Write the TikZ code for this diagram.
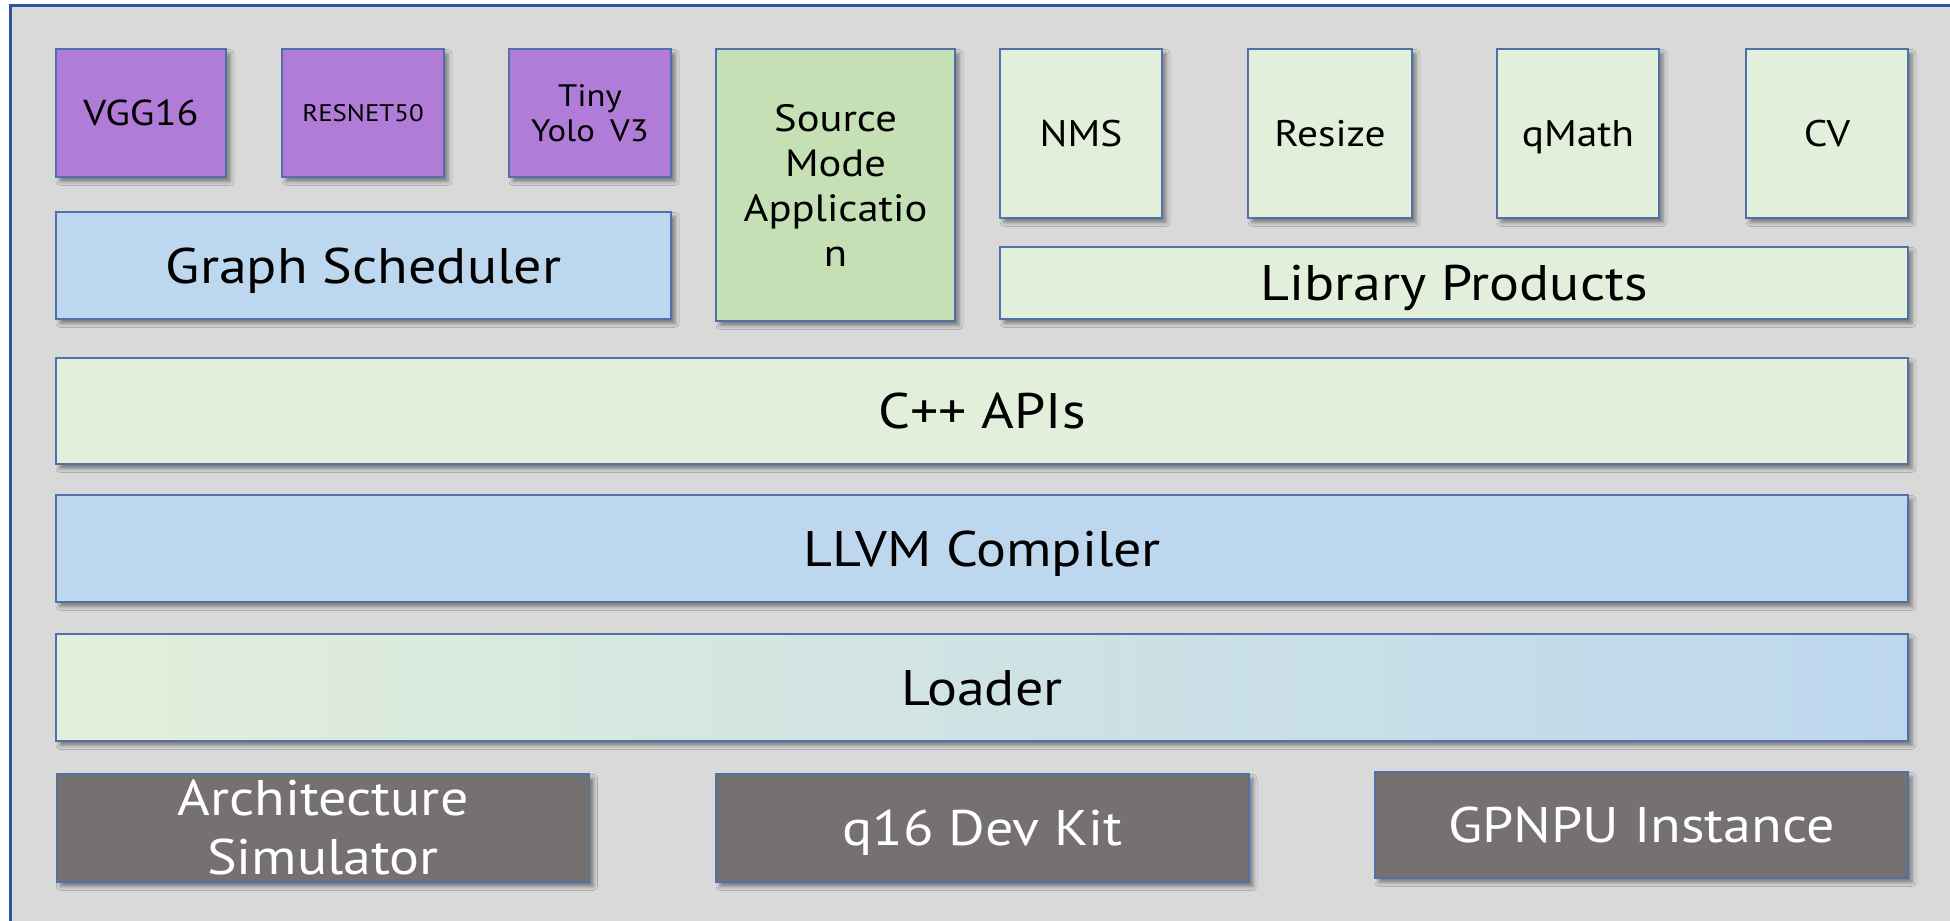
\documentclass[tikz,border=0pt]{standalone}
\usepackage{fontspec}
\setmainfont{PT Sans}[FakeStretch=1.12]
\usetikzlibrary{shadows.blur}

\definecolor{framebg}{HTML}{D9D9D9}
\definecolor{frameline}{HTML}{2F5597}
\definecolor{boxline}{HTML}{5070A8}
\definecolor{modelfill}{HTML}{B07CD8}
\definecolor{bluefill}{HTML}{BDD7EE}
\definecolor{greenfill}{HTML}{E2EFDA}
\definecolor{appfill}{HTML}{C5E0B4}
\definecolor{hwfill}{HTML}{767171}

\tikzset{
  box/.style={draw=boxline, line width=0.6pt, rectangle, inner sep=0pt, outer sep=0pt,
    align=center, text=black,
    blur shadow={shadow xshift=2pt, shadow yshift=-2.2pt, shadow blur radius=2pt, shadow opacity=45}},
  % single-line labels are centred on their capital letters
  bigline/.style={font=\fontsize{25}{30}\selectfont, text height=17.5pt, text depth=0pt},
  midline/.style={font=\fontsize{18.5}{22.5}\selectfont, text height=12.9pt, text depth=0pt},
  model/.style={box, fill=modelfill, minimum height=64pt},
  lib/.style={box, midline, fill=greenfill, minimum width=81pt, minimum height=84.5pt},
  layer/.style={box, bigline, minimum width=926pt, minimum height=53.5pt},
  hw/.style={box, fill=hwfill, text=white, minimum width=266.5pt, minimum height=54pt},
}

\begin{document}
\begin{tikzpicture}[x=0.5pt, y=-0.5pt]
  \useasboundingbox (0,0) rectangle (1950,921);
  % outer panel
  \draw[fill=framebg, draw=frameline, line width=1.4pt] (10.5,5.5) rectangle (1990,960);

  % network models
  \node[model, font=\fontsize{18}{22.5}\selectfont, text height=12.6pt, text depth=0pt, minimum width=85pt] (vgg) at (141,113) {VGG16};
  \node[model, minimum width=81pt, font=\fontsize{12}{15}\selectfont, text height=8.4pt, text depth=0pt] (resnet) at (363,113) {RESNET50};
  \node[model, minimum width=81pt, font=\fontsize{15.5}{17.5}\selectfont] (yolo) at (590,113) {Tiny\\Yolo\hspace{3pt} V3};

  % graph scheduler
  \node[box, bigline, fill=bluefill, minimum width=307.5pt, minimum height=53.5pt] (sched) at (363.5,265.5) {Graph Scheduler};

  % application
  \node[box, fill=appfill, minimum width=119.5pt, minimum height=136pt, font=\fontsize{19}{22.5}\selectfont] (app) at (835.5,185) {Source\\Mode\\Applicatio\\n};

  % library functions
  \node[lib] (nms) at (1081,133.5) {NMS};
  \node[lib, minimum width=82pt] (resize) at (1330,133.5) {Resize};
  \node[lib] (qmath) at (1578,133.5) {qMath};
  \node[lib] (cv) at (1827,133.5) {CV};
  \node[box, bigline, fill=greenfill, minimum width=454pt, minimum height=36pt] (libprod) at (1454,283) {Library Products};

  % software layers
  \node[layer, fill=greenfill, minimum height=53pt] (api) at (982,411) {C++ APIs};
  \node[layer, fill=bluefill] (llvm) at (982,548.5) {LLVM Compiler};
  \node[layer, left color=greenfill, right color=bluefill] (loader) at (982,687.5) {Loader};

  % targets
  \node[hw, font=\fontsize{25}{29.5}\selectfont] (sim) at (323,828) {Architecture\\Simulator};
  \node[hw, bigline] (kit) at (982.5,828) {q16 Dev Kit};
  \node[hw, bigline, minimum height=53pt] (gpnpu) at (1641.5,825) {GPNPU Instance};
\end{tikzpicture}
\end{document}
